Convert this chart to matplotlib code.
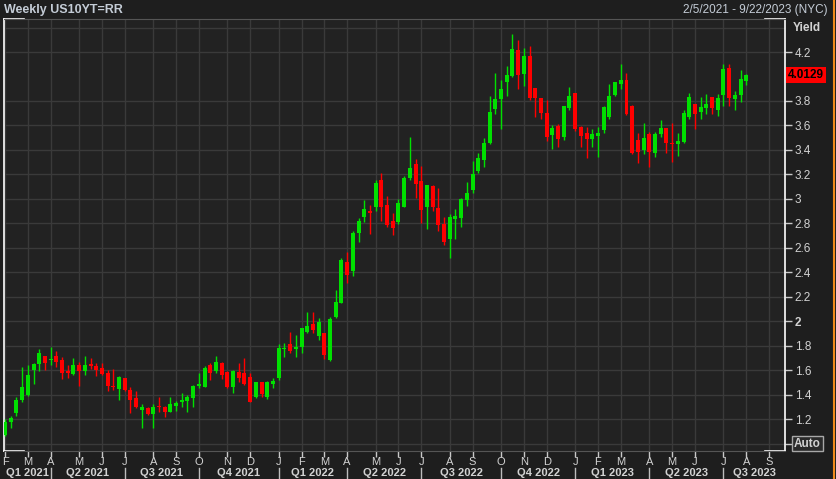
import numpy as np
import pandas as pd
import matplotlib
matplotlib.use('Agg')
import matplotlib.pyplot as plt
from matplotlib.lines import Line2D

plt.rcParams['font.family'] = ['Liberation Sans', 'DejaVu Sans']

# Weekly candles, US 10Y yield
start_date = '2021-02-05'
opens = [1.07, 1.18, 1.25, 1.36, 1.40, 1.60, 1.65, 1.72, 1.68, 1.72,
         1.68, 1.59, 1.57, 1.64, 1.59, 1.646, 1.635, 1.62, 1.58, 1.471,
         1.444, 1.54, 1.44, 1.37, 1.275, 1.29, 1.243, 1.308, 1.297, 1.262,
         1.308, 1.344, 1.352, 1.371, 1.474, 1.466, 1.643, 1.597, 1.657, 1.589,
         1.461, 1.589, 1.575, 1.548, 1.384, 1.507, 1.384, 1.488, 1.534, 1.774,
         1.811, 1.776, 1.792, 1.910, 1.975, 1.880, 1.901, 1.684, 2.032, 2.152,
         2.481, 2.411, 2.718, 2.849, 2.904, 2.931, 3.154, 2.950, 2.819, 2.808,
         2.936, 3.168, 3.285, 3.146, 2.936, 3.105, 2.923, 2.795, 2.672, 2.835,
         2.846, 2.991, 3.072, 3.230, 3.318, 3.453, 3.731, 3.816, 3.957, 4.006,
         4.216, 4.020, 4.167, 3.909, 3.827, 3.705, 3.522, 3.596, 3.509, 3.740,
         3.863, 3.590, 3.541, 3.487, 3.514, 3.563, 3.672, 3.849, 3.939, 3.971,
         3.759, 3.481, 3.400, 3.530, 3.378, 3.530, 3.577, 3.454, 3.449, 3.468,
         3.667, 3.775, 3.713, 3.740, 3.830, 3.726, 3.849, 4.067, 3.816, 3.849,
         3.966]
highs = [1.20, 1.23, 1.38, 1.63, 1.64, 1.66, 1.77, 1.72, 1.79, 1.76,
         1.71, 1.64, 1.70, 1.67, 1.72, 1.70, 1.66, 1.66, 1.60, 1.61,
         1.553, 1.54, 1.46, 1.43, 1.32, 1.30, 1.32, 1.38, 1.31, 1.38,
         1.35, 1.41, 1.40, 1.48, 1.575, 1.635, 1.657, 1.717, 1.67, 1.597,
         1.602, 1.657, 1.703, 1.58, 1.507, 1.507, 1.515, 1.534, 1.814, 1.82,
         1.912, 1.885, 1.942, 2.076, 2.076, 2.024, 1.901, 2.032, 2.255, 2.520,
         2.569, 2.737, 2.841, 2.991, 2.947, 3.154, 3.214, 3.023, 2.882, 2.996,
         3.187, 3.503, 3.323, 3.268, 3.113, 3.113, 3.086, 2.849, 2.876, 2.917,
         3.004, 3.140, 3.309, 3.372, 3.495, 3.840, 4.031, 3.971, 4.085, 4.347,
         4.298, 4.235, 4.249, 3.909, 3.827, 3.808, 3.604, 3.612, 3.759, 3.912,
         3.863, 3.596, 3.590, 3.571, 3.585, 3.759, 3.939, 3.958, 4.102, 4.026,
         3.767, 3.536, 3.617, 3.549, 3.549, 3.645, 3.577, 3.617, 3.536, 3.726,
         3.868, 3.775, 3.835, 3.857, 3.830, 3.857, 4.102, 4.102, 3.882, 4.053,
         4.021]
lows = [1.06, 1.13, 1.23, 1.34, 1.39, 1.49, 1.59, 1.60, 1.64, 1.63,
        1.53, 1.54, 1.56, 1.47, 1.56, 1.61, 1.55, 1.56, 1.43, 1.44,
        1.36, 1.43, 1.25, 1.29, 1.13, 1.235, 1.13, 1.26, 1.22, 1.262,
        1.27, 1.30, 1.26, 1.30, 1.452, 1.461, 1.52, 1.575, 1.526, 1.452,
        1.417, 1.507, 1.48, 1.344, 1.376, 1.379, 1.363, 1.458, 1.52, 1.705,
        1.738, 1.711, 1.743, 1.901, 1.907, 1.847, 1.689, 1.676, 2.024, 2.152,
        2.315, 2.373, 2.650, 2.814, 2.713, 2.904, 2.822, 2.773, 2.705, 2.795,
        2.936, 3.154, 3.010, 2.800, 2.751, 2.904, 2.740, 2.623, 2.520, 2.672,
        2.767, 2.944, 3.051, 3.209, 3.263, 3.448, 3.690, 3.568, 3.840, 3.993,
        3.895, 3.925, 3.807, 3.672, 3.650, 3.476, 3.405, 3.427, 3.481, 3.726,
        3.558, 3.421, 3.332, 3.421, 3.340, 3.541, 3.650, 3.844, 3.898, 3.686,
        3.367, 3.291, 3.367, 3.258, 3.345, 3.509, 3.378, 3.304, 3.351, 3.460,
        3.650, 3.568, 3.650, 3.694, 3.694, 3.677, 3.759, 3.759, 3.726, 3.794,
        3.931]
closes = [1.18, 1.21, 1.36, 1.46, 1.56, 1.65, 1.74, 1.66, 1.69, 1.67,
          1.58, 1.575, 1.64, 1.59, 1.64, 1.638, 1.60, 1.57, 1.47, 1.461,
          1.548, 1.44, 1.36, 1.30, 1.297, 1.243, 1.297, 1.297, 1.262, 1.322,
          1.335, 1.352, 1.379, 1.471, 1.485, 1.616, 1.58, 1.67, 1.561, 1.461,
          1.597, 1.534, 1.488, 1.344, 1.507, 1.406, 1.507, 1.515, 1.784, 1.782,
          1.754, 1.790, 1.942, 1.961, 1.929, 1.994, 1.724, 2.018, 2.155, 2.500,
          2.378, 2.724, 2.819, 2.917, 2.887, 3.132, 2.931, 2.786, 2.759, 2.964,
          3.173, 3.249, 3.121, 2.909, 3.113, 2.936, 2.786, 2.650, 2.849, 2.860,
          2.999, 3.045, 3.200, 3.331, 3.454, 3.707, 3.816, 3.897, 4.012, 4.224,
          4.012, 4.170, 3.821, 3.822, 3.705, 3.509, 3.582, 3.487, 3.759, 3.841,
          3.568, 3.514, 3.489, 3.530, 3.541, 3.754, 3.841, 3.958, 3.971, 3.694,
          3.372, 3.386, 3.495, 3.386, 3.530, 3.577, 3.460, 3.449, 3.476, 3.705,
          3.830, 3.694, 3.748, 3.775, 3.740, 3.822, 4.059, 3.827, 3.849, 3.977,
          4.013]
last_label = '4.0129'
ytick_vals = [1.2, 1.4, 1.6, 1.8, 2.0, 2.2, 2.4, 2.6, 2.8, 3.0, 3.2, 3.4, 3.6, 3.8, 4.2]
ytick_labels = ['1.2', '1.4', '1.6', '1.8', '2', '2.2', '2.4', '2.6', '2.8', '3', '3.2', '3.4', '3.6', '3.8', '4.2']

df = pd.DataFrame({'open': opens, 'high': highs, 'low': lows, 'close': closes},
                  index=pd.date_range(start_date, periods=len(opens), freq='W-FRI'))
x = np.arange(len(df))
up = df['close'] >= df['open']

GREEN = '#00e000'
RED = '#ff0000'
TXT = '#d2d2d2'
BG = '#1e1e1e'
AXBG = '#222222'
GRID = '#3a3a3a'

fig = plt.figure(figsize=(8.37, 4.79), dpi=100, facecolor=BG)
ax = fig.add_axes([4 / 837, 28 / 479, 781 / 837, 432 / 479], facecolor=AXBG)

# candles
colors = np.where(up, GREEN, RED)
ax.vlines(x, df['low'], df['high'], colors=colors, linewidth=1.0, zorder=3)
body_lo = np.minimum(df['open'], df['close'])
body_h = np.maximum(np.abs(df['close'] - df['open']), 0.009)
ax.bar(x, body_h, bottom=body_lo, width=0.7, color=colors, linewidth=0, zorder=4)

ax.set_xlim(-0.18, 136.8)
ax.set_ylim(0.94, 4.47)

# month ticks at first Friday of each month
start = pd.Timestamp(start_date)
months = pd.date_range('2021-02-01', '2023-09-01', freq='MS')
month_pos = []
for m in months:
    first_fri = m + pd.Timedelta(days=(4 - m.weekday()) % 7)
    month_pos.append((first_fri - start).days / 7)
month_letters = [m.strftime('%b')[0] for m in months]
ax.set_xticks(month_pos)
ax.set_xticklabels(month_letters)
ax.tick_params(axis='x', colors='#c8c8c8', length=4, width=1, pad=0.5, labelsize=8, labelcolor=TXT)

# quarter labels and separators
bounds = [-0.18] + [p for p, m in zip(month_pos, months) if m.month in (1, 4, 7, 10)] + [136.8]
q_names = ['Q1 2021', 'Q2 2021', 'Q3 2021', 'Q4 2021', 'Q1 2022', 'Q2 2022',
           'Q3 2022', 'Q4 2022', 'Q1 2023', 'Q2 2023', 'Q3 2023']
xtrans = ax.get_xaxis_transform()
for i, name in enumerate(q_names):
    ax.text((bounds[i] + bounds[i + 1]) / 2, -0.0505, name, transform=xtrans,
            ha='center', va='center', fontsize=8, fontweight='bold', color=TXT)
for b in bounds[1:-1]:
    ax.add_line(Line2D([b, b], [-0.039, -0.066], transform=xtrans, color='#bdbdbd',
                       linewidth=1, clip_on=False))

# y axis on the right
ax.yaxis.tick_right()
ax.set_yticks([1.0] + ytick_vals)
ax.set_yticklabels([''] + ytick_labels)
ax.tick_params(axis='y', colors='#c8c8c8', length=5, width=1, pad=2, labelsize=8.5, labelcolor=TXT)
for lbl in ax.get_yticklabels():
    if lbl.get_text() == '2':
        lbl.set_fontweight('bold')

ax.grid(True, color=GRID, linewidth=1)
ax.axhline(4.4, color=GRID, linewidth=1, zorder=0)
ax.set_axisbelow(True)

# frame
for side in ['top', 'bottom']:
    ax.spines[side].set_color('#555555')
for side in ['left', 'right']:
    ax.spines[side].set_color('white')
    ax.spines[side].set_linewidth(1.2)
stub = 20 / 781
for xs, ys in [([0, stub], [1, 1]), ([0, stub], [0, 0]),
               ([1 - stub, 1], [1, 1]), ([1 - stub, 1], [0, 0])]:
    ax.add_line(Line2D(xs, ys, transform=ax.transAxes, color='white', linewidth=1.2, clip_on=False))

ytrans = ax.get_yaxis_transform()
ax.text(1.0095, 4.4, 'Yield', transform=ytrans, ha='left', va='center',
        fontsize=8.5, fontweight='bold', color=TXT)
ax.text(1.0115, 1.0, 'Auto', transform=ytrans, ha='left', va='center',
        fontsize=8.5, fontweight='bold', color=TXT,
        bbox=dict(boxstyle='square,pad=0.15', facecolor='#2a2a2a', edgecolor='#a8a8a8', linewidth=1))
ax.text(1.004, closes[-1], last_label, transform=ytrans, ha='left', va='center',
        fontsize=8.5, fontweight='bold', color='black',
        bbox=dict(boxstyle='square,pad=0.2', facecolor=RED, edgecolor='none'))

# header
fig.text(4 / 837, 1 - 10 / 479, 'Weekly US10YT=RR', ha='left', va='center',
         fontsize=9, fontweight='bold', color='#c4ccd6')
fig.text(828 / 837, 1 - 10 / 479, '2/5/2021 - 9/22/2023 (NYC)', ha='right', va='center',
         fontsize=8.5, color='#c4ccd6')
fig.add_artist(Line2D([834 / 837, 834 / 837], [0, 1], transform=fig.transFigure,
                      color='#f08a1c', linewidth=1.5))

fig.savefig('out.png', dpi=100, facecolor=BG)
